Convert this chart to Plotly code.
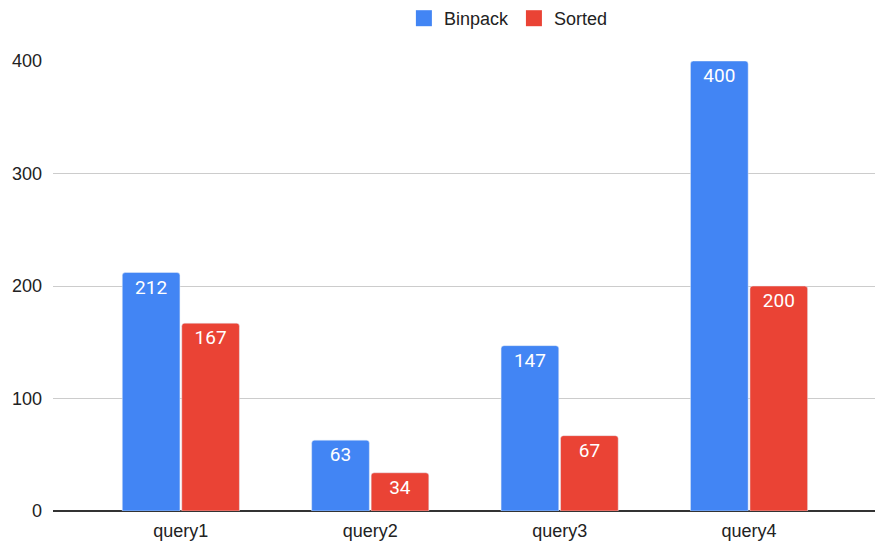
import plotly.graph_objects as go

categories = ["query1", "query2", "query3", "query4"]
binpack = [212, 63, 147, 400]
sorted_vals = [167, 34, 67, 200]
y_ticks = [0, 100, 200, 300, 400]
series_names = ["Binpack", "Sorted"]
series_colors = ["#4285F4", "#EA4335"]

fig = go.Figure()
for name, vals, col in zip(series_names, [binpack, sorted_vals], series_colors):
    fig.add_trace(go.Bar(
        name=name, x=categories, y=vals, text=vals, showlegend=False,
        marker=dict(color=col, cornerradius=3),
        textposition="inside", insidetextanchor="end",
        textfont=dict(family="Roboto", size=19, color="white"),
    ))
# legend entries with larger square swatches
for name, col in zip(series_names, series_colors):
    fig.add_trace(go.Scatter(
        name=name, x=[None], y=[None], mode="markers",
        marker=dict(symbol="square", size=16, color=col),
    ))

fig.update_layout(
    width=875, height=545,
    margin=dict(l=53, r=0, t=61, b=34),
    paper_bgcolor="white", plot_bgcolor="white",
    barmode="group", bargap=0.372, bargroupgap=0.03,
    font=dict(family="Liberation Sans, Arial", size=18, color="#222"),
    showlegend=True,
    legend=dict(orientation="h", x=0.554, xanchor="center", y=1.0, yanchor="top",
                yref="container", font=dict(size=18, color="#222"),
                itemwidth=30, traceorder="normal"),
    xaxis=dict(range=[-0.675, 3.665], showgrid=False, ticks="",
               showline=False, tickfont=dict(size=18, color="#222"),
               ticklabelstandoff=7),
    yaxis=dict(range=[0, 400], tickvals=y_ticks, showgrid=True, gridcolor="#cccccc",
               gridwidth=1, zeroline=True, zerolinecolor="#333333", zerolinewidth=1.5,
               tickfont=dict(size=18, color="#222"), ticks="", ticklabelstandoff=10),
)
fig.write_html("out.html")
